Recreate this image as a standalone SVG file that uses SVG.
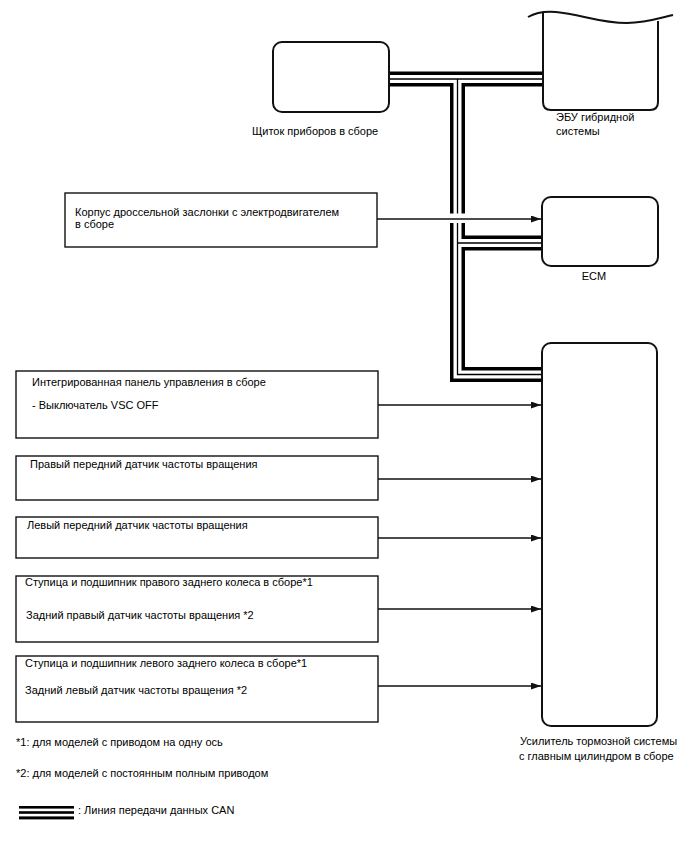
<svg xmlns="http://www.w3.org/2000/svg" width="688" height="852" viewBox="0 0 688 852">
<style>
text{font-family:"Liberation Sans",Arial,sans-serif;font-size:11px;fill:#000}
.box{fill:#fff;stroke:#111;stroke-width:1.4}
.rbox{fill:#fff;stroke:#111;stroke-width:2}
.arr{stroke:#111;stroke-width:1.3;fill:none;marker-end:url(#ah)}
.canO{stroke:#000;stroke-width:15;fill:none;stroke-linejoin:miter}
.canW{stroke:#fff;stroke-width:8;fill:none;stroke-linejoin:miter}
.canI{stroke:#000;stroke-width:1.3;fill:none;stroke-linejoin:miter}
</style>
<defs>
<marker id="ah" markerUnits="userSpaceOnUse" markerWidth="10" markerHeight="8" refX="10" refY="3.5" orient="auto">
<path d="M0,0 L10,3.5 L0,7 z" fill="#111"/>
</marker>
</defs>
<rect width="688" height="852" fill="#fff"/>

<g id="connectors">
<g id="can-bus">
<path class="canO" d="M389,79 H543 M457.5,79 V374.5 H542 M457.5,243 H542"/>
<path class="canW" d="M389,79 H543 M457.5,79 V374.5 H542 M457.5,243 H542"/>
<path class="canI" d="M389,79 H543 M457.5,79 V374.5 H542 M457.5,243 H542"/>
</g>
<rect x="447" y="213.5" width="20" height="9.5" fill="#fff"/>
<path class="arr" d="M377,219 H541"/>
<path class="arr" d="M378,405 H541"/>
<path class="arr" d="M378,479 H541"/>
<path class="arr" d="M378,538 H541"/>
<path class="arr" d="M378,609 H541"/>
<path class="arr" d="M378,686 H541"/>
</g>

<g id="instrument-cluster">
<rect class="rbox" x="273" y="42" width="116" height="70" rx="9"/>
<text x="252" y="135">Щиток приборов в сборе</text>
</g>

<g id="hybrid-ecu">
<path d="M543,13 V102 Q543,110 551,110 H650 Q658,110 658,102 V21" fill="#fff" stroke="#111" stroke-width="2"/>
<path d="M528,17 C535,13 545,11 556,12 C580,14 600,23 627,23 C645,23 660,18 673,15" fill="none" stroke="#111" stroke-width="2"/>
<text x="556" y="121">ЭБУ гибридной</text>
<text x="556" y="135">системы</text>
</g>

<g id="throttle-body">
<rect class="box" x="65" y="193" width="312" height="54"/>
<text x="75" y="216">Корпус дроссельной заслонки с электродвигателем</text>
<text x="75" y="228">в сборе</text>
</g>

<g id="ecm">
<rect class="rbox" x="542" y="197" width="116" height="69" rx="9"/>
<text x="594" y="280" text-anchor="middle">ECM</text>
</g>

<g id="brake-booster">
<rect class="rbox" x="542" y="343" width="115" height="383" rx="9"/>
<text x="520" y="745">Усилитель тормозной системы</text>
<text x="519" y="760">с главным цилиндром в сборе</text>
</g>

<g id="integrated-panel">
<rect class="box" x="16" y="371" width="362" height="67"/>
<text x="32" y="386">Интегрированная панель управления в сборе</text>
<text x="32" y="409">- Выключатель VSC OFF</text>
</g>

<g id="front-right-sensor">
<rect class="box" x="16" y="456" width="362" height="44"/>
<text x="30" y="468">Правый передний датчик частоты вращения</text>
</g>

<g id="front-left-sensor">
<rect class="box" x="16" y="517" width="362" height="41"/>
<text x="27" y="529">Левый передний датчик частоты вращения</text>
</g>

<g id="rear-right">
<rect class="box" x="16" y="576" width="362" height="66"/>
<text x="25" y="586">Ступица и подшипник правого заднего колеса в сборе*1</text>
<text x="26" y="619">Задний правый датчик частоты вращения *2</text>
</g>

<g id="rear-left">
<rect class="box" x="16" y="656" width="362" height="66"/>
<text x="25" y="667">Ступица и подшипник левого заднего колеса в сборе*1</text>
<text x="25" y="694">Задний левый датчик частоты вращения *2</text>
</g>

<g id="notes">
<text x="16" y="746">*1: для моделей с приводом на одну ось</text>
<text x="16" y="777">*2: для моделей с постоянным полным приводом</text>
<g id="legend">
<rect x="19" y="806" width="55" height="2.6" fill="#000"/>
<rect x="19" y="811.2" width="55" height="2.6" fill="#000"/>
<rect x="19" y="816.4" width="55" height="3" fill="#000"/>
<text x="78" y="814">: Линия передачи данных CAN</text>
</g>
</g>
</svg>
